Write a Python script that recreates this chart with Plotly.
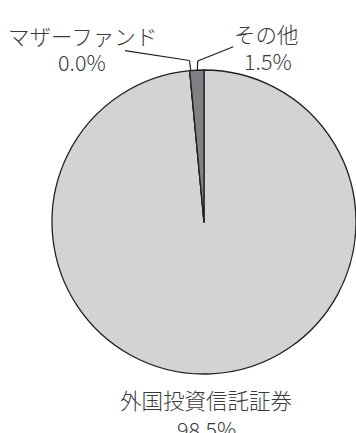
import plotly.graph_objects as go

labels = ["外国投資信託証券", "マザーファンド", "その他"]
values = [98.5, 0.0, 1.5]
pct_text = ["98.5%", "0.0%", "1.5%"]
colors = ["#d2d3d5", "#808184", "#808184"]

W, H = 356, 433
cx, cy, r = 204, 222, 152

fig = go.Figure(go.Pie(
    labels=labels, values=values, sort=False, direction="clockwise",
    rotation=0, textinfo="none", hoverinfo="label+percent",
    marker=dict(colors=colors, line=dict(color="#231f20", width=1.3)),
    domain=dict(x=[(cx - r) / W, (cx + r) / W], y=[(H - cy - r) / H, (H - cy + r) / H]),
    showlegend=False,
))

font = dict(family="Noto Sans CJK JP Light, Noto Sans CJK JP", size=21.5,
            color="#3a3a3a", weight=300)

def px(x):
    return x / W

def py(y):
    return 1 - y / H

# (text, x-center, y-center) in pixels
ann = [
    (labels[1], 82, 36), (pct_text[1], 82, 62),
    (labels[2], 266, 33), (pct_text[2], 268, 60),
    (labels[0], 206, 399), (pct_text[0], 206, 428),
]
for txt, x, y in ann:
    fig.add_annotation(x=px(x), y=py(y), xref="paper", yref="paper", showarrow=False,
                       text=txt, font=font, align="center",
                       xanchor="center", yanchor="middle")

lines = [
    [(125, 50.7), (189.5, 60.5), (190.7, 70)],
    [(233.3, 46.7), (197.7, 61), (197.3, 70)],
]
for pts in lines:
    for (x0, y0), (x1, y1) in zip(pts[:-1], pts[1:]):
        fig.add_shape(type="line", xref="paper", yref="paper",
                      x0=px(x0), y0=py(y0), x1=px(x1), y1=py(y1),
                      line=dict(color="#231f20", width=1.2))

fig.update_layout(width=W, height=H, margin=dict(l=0, r=0, t=0, b=0),
                  paper_bgcolor="white", plot_bgcolor="white")
fig.write_html("out.html", config={"displayModeBar": False},
               post_script="document.body.style.margin='0';document.body.style.overflow='hidden';")
